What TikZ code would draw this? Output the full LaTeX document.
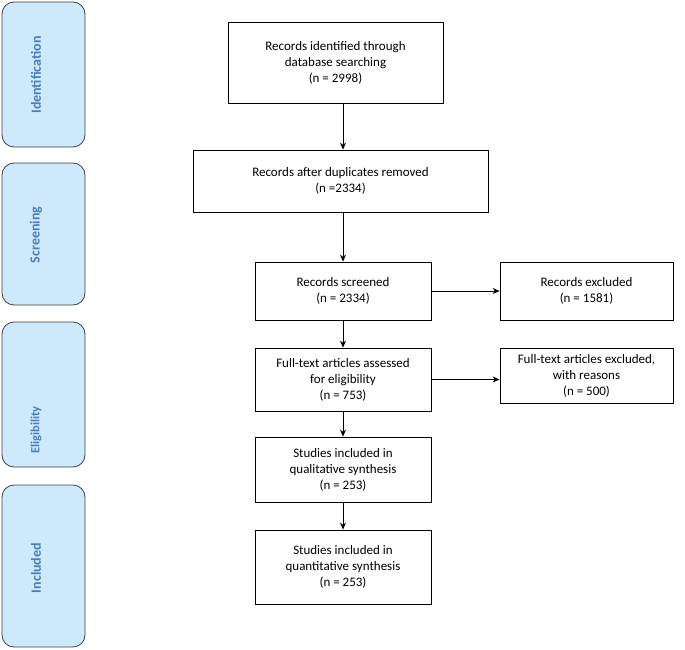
\documentclass[tikz,border=0pt]{standalone}
\usepackage{fontspec}
\setmainfont{Carlito}
\usetikzlibrary{arrows.meta}
\definecolor{sidefill}{HTML}{CFE9FC}
\definecolor{sidetext}{HTML}{4A7EBB}
\begin{document}
\begin{tikzpicture}[x=1pt,y=-1pt,
  box/.style={draw,thick,align=center,font=\fontsize{13}{16}\selectfont,inner sep=0pt},
  side/.style={draw=black!75,thick,fill=sidefill,rounded corners=12pt},
  stxt/.style={rotate=90,text=sidetext,font=\bfseries\fontsize{14}{16}\selectfont},
  arr/.style={-{Stealth[length=7pt,width=6pt]},thick}]
\useasboundingbox (0,0) rectangle (685,650);
\draw[side] (2,2) rectangle (85,147);
\draw[side] (2,163) rectangle (85,305);
\draw[side] (2,322) rectangle (85,467);
\draw[side] (2,485) rectangle (85,647);
\node[stxt] (s1) at (36,75) {Identification};
\node[stxt] (s2) at (36,235) {Screening};
\node[stxt,font=\bfseries\fontsize{12.5}{14}\selectfont] (s3) at (36,430) {Eligibility};
\node[stxt] (s4) at (36,568) {Included};
\node[box,minimum width=215,minimum height=81] (b1) at (335.5,62.5) {Records identified through\\database searching\\(n = 2998)};
\node[box,minimum width=295,minimum height=62] (b2) at (340.5,181) {Records after duplicates removed\\(n =2334)};
\node[box,minimum width=176,minimum height=58] (b3) at (343,291) {Records screened\\(n = 2334)};
\node[box,minimum width=173,minimum height=58] (b4) at (586.5,291) {Records excluded\\(n = 1581)};
\node[box,minimum width=176,minimum height=63] (b5) at (343,379.5) {Full-text articles assessed\\for eligibility\\(n = 753)};
\node[box,minimum width=173,minimum height=55] (b6) at (586.5,375.5) {Full-text articles excluded,\\with reasons\\(n = 500)};
\node[box,minimum width=176,minimum height=65] (b7) at (343,469.5) {Studies included in\\qualitative synthesis\\(n = 253)};
\node[box,minimum width=176,minimum height=74] (b8) at (343,567) {Studies included in\\quantitative synthesis\\(n = 253)};
\draw[arr] (b1.south -| 343,0) -- (b2.north -| 343,0);
\draw[arr] (b2.south -| 343,0) -- (b3.north);
\draw[arr] (b3) -- (b4);
\draw[arr] (b3) -- (b5);
\draw[arr] (b5.east) -- (b6.west |- b5.east);
\draw[arr] (b5) -- (b7);
\draw[arr] (b7) -- (b8);
\end{tikzpicture}
\end{document}
